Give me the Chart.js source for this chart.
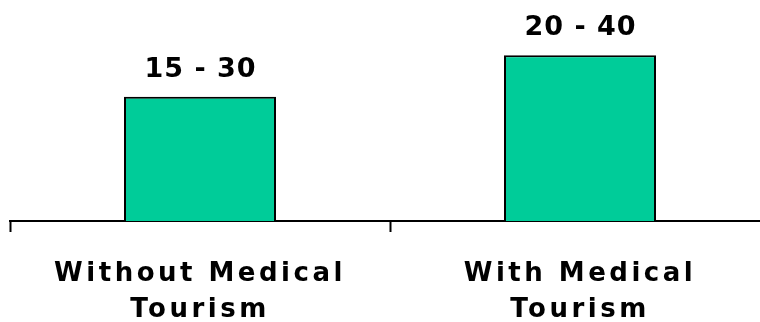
<!DOCTYPE html>
<html>
<head>
<meta charset="utf-8">
<script src="https://cdn.jsdelivr.net/npm/chart.js@4"></script>
<style>
  html, body { margin: 0; padding: 0; background: #fff; overflow: hidden; }
  #wrap { width: 780px; height: 322px; }
</style>
</head>
<body>
<div id="wrap"><canvas id="myChart" width="780" height="322"></canvas></div>
<script>
// chart data
const categories = [['Without Medical', 'Tourism'], ['With Medical', 'Tourism']]
const midValues = [22.5, 30]          // bar heights (middle of each range)
const rangeLabels = ['15 - 30', '20 - 40']
const yMin = 0
const yMax = 40

const FONT = '"DejaVu Sans", "Liberation Sans", sans-serif'

// wide letter spacing for the axis labels
const spacingPlugin = {
  id: 'spacing',
  beforeDraw(chart) {
    chart.ctx.letterSpacing = '3.5px'
  },
  afterDatasetsDraw(chart) {
    const ctx = chart.ctx
    ctx.save()
    ctx.letterSpacing = '1px'
    ctx.font = 'bold 27px ' + FONT
    ctx.fillStyle = '#000'
    ctx.textAlign = 'center'
    ctx.textBaseline = 'alphabetic'
    chart.getDatasetMeta(0).data.forEach(function(bar, i) {
      ctx.fillText(rangeLabels[i], bar.x + 0.5, bar.y - 20)
    })
    ctx.restore()
  },
  afterDraw(chart) {
    chart.ctx.letterSpacing = '0px'
  }
}

var ctx = document.getElementById('myChart').getContext('2d')
var chart = new Chart(ctx, {
  type: 'bar',
  data: {
    labels: categories,
    datasets: [{
      data: midValues,
      backgroundColor: 'rgb(0, 204, 153)',
      borderColor: '#000',
      borderWidth: 2,
      borderSkipped: 'bottom',
      barPercentage: 0.4,
      categoryPercentage: 1
    }]
  },
  options: {
    responsive: false,
    animation: false,
    layout: { padding: { left: 10, right: 10, top: 0, bottom: 0 } },
    plugins: {
      legend: { display: false },
      tooltip: { enabled: false }
    },
    scales: {
      y: {
        display: false,
        min: yMin,
        max: yMax
      },
      x: {
        offset: true,
        afterFit(scale) { scale.height = 101 },
        border: { display: true, color: '#000', width: 2 },
        grid: {
          offset: true,
          drawOnChartArea: false,
          drawTicks: true,
          tickLength: 11,
          tickColor: '#000',
          tickWidth: 2
        },
        ticks: {
          color: '#000',
          maxRotation: 0,
          autoSkip: false,
          padding: 24,
          font: { family: FONT, size: 26, weight: 'bold', lineHeight: 1.4 }
        }
      }
    }
  },
  plugins: [spacingPlugin]
})
</script>
</body>
</html>
